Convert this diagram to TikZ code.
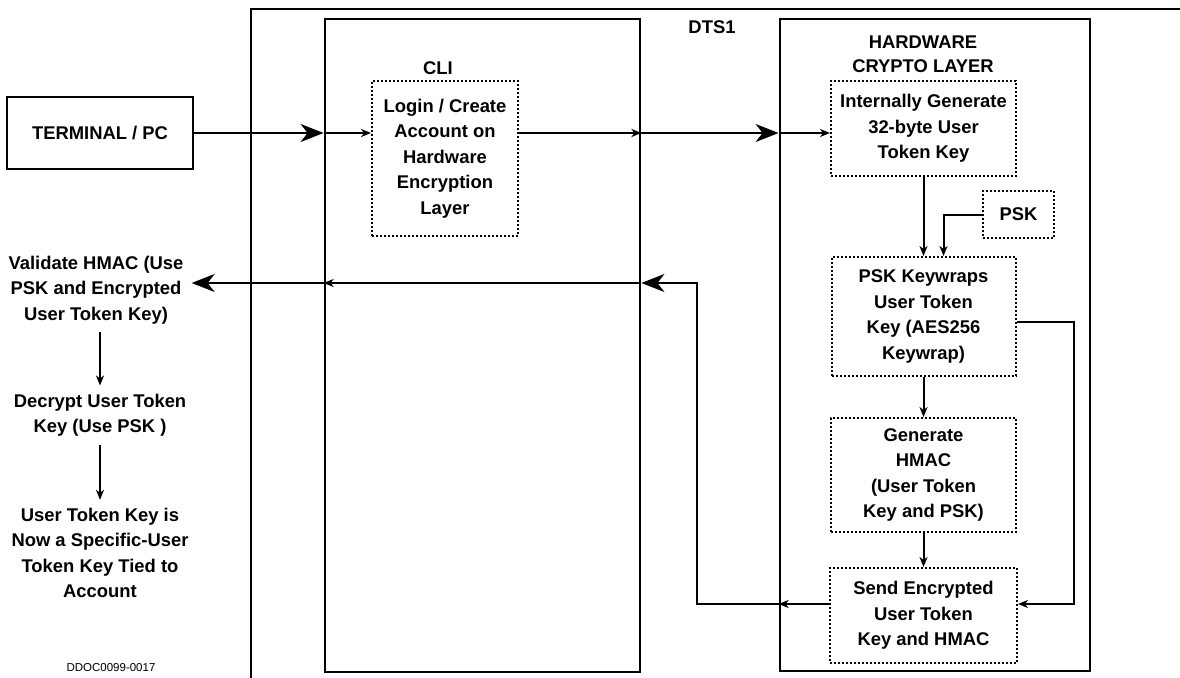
\documentclass[tikz,border=0pt]{standalone}
\usepackage{fontspec}
\setmainfont{Liberation Sans}
\usetikzlibrary{arrows.meta, positioning, calc}

\begin{document}
\begin{tikzpicture}[
    x=1pt, y=-1pt,
    font=\fontsize{18.4}{25.5}\selectfont\bfseries,
    % Styles
    panel/.style={rectangle, draw=black, line width=2.8pt, inner sep=0pt},
    stepbox/.style={rectangle, draw=black, line width=2pt, dash pattern=on 2pt off 2pt, align=center, inner sep=0pt},
    textnode/.style={align=center, inner sep=8pt},
    bigarrow/.style={-{Stealth[length=23pt, width=18pt, inset=7pt]}, line width=2pt},
    arrow/.style={-{Stealth[length=10pt, width=8pt, inset=3pt]}, line width=2pt}
]
    \useasboundingbox (0,0) rectangle (1180,677);

    % Outer DTS1 frame, open to the right and bottom
    \draw[line width=2.8pt] (251,690) |- (1190,9);
    \node (dtslabel) at (712,27) {DTS1};

    % Two panels inside DTS1
    \node[panel, minimum width=315pt, minimum height=653pt] (cli) at (482.5,345.5) {};
    \node[panel, minimum width=310pt, minimum height=652pt] (hw) at (935,345) {};
    \node (clilabel) at (438,68) {CLI};
    \node[align=center, font=\fontsize{18.4}{24}\selectfont\bfseries] (hwlabel) at (923,54) {HARDWARE\\CRYPTO LAYER};

    % Terminal
    \node[panel, minimum width=186pt, minimum height=72pt] (terminal) at (100,133) {TERMINAL / PC};

    % CLI step
    \node[stepbox, minimum width=146pt, minimum height=155pt] (login) at (445,158.5) {Login / Create\\Account on\\Hardware\\Encryption\\Layer};

    % Crypto layer steps, top to bottom
    \node[stepbox, minimum width=185pt, minimum height=95pt] (genkey) at (923.5,128.5) {Internally Generate\\32-byte User\\Token Key};
    \node[stepbox, minimum width=184pt, minimum height=119pt, below=79pt of genkey] (keywrap) {PSK Keywraps\\User Token\\Key (AES256\\Keywrap)};
    \node[stepbox, minimum width=185pt, minimum height=114pt, below=40pt of keywrap] (hmac) {Generate\\HMAC\\(User Token\\Key and PSK)};
    \node[stepbox, minimum width=187pt, minimum height=95pt, below=34pt of hmac] (send) {Send Encrypted\\User Token\\Key and HMAC};
    \node[stepbox, minimum width=71pt, minimum height=47pt] (psk) at (1018.5,214.5) {PSK};

    % Steps outside DTS1
    \node[textnode] (validate) at (96,290) {Validate HMAC (Use\\PSK and Encrypted\\User Token Key)};
    \node[textnode] (decrypt) at (100,415) {Decrypt User Token\\Key (Use PSK )};
    \node[textnode] (account) at (100,553) {User Token Key is\\Now a Specific-User\\Token Key Tied to\\Account};
    \node[font=\fontsize{11.5}{14}\selectfont] (docid) at (111,668) {DDOC0099-0017};

    % Request path, left to right
    \draw[bigarrow] (terminal.east) -- (terminal.east -| cli.west);
    \draw[arrow] (terminal.east -| cli.west) -- (terminal.east -| login.west);
    \draw[arrow] (terminal.east -| login.east) -- (terminal.east -| cli.east);
    \draw[bigarrow] (terminal.east -| cli.east) -- (terminal.east -| hw.west);
    \draw[arrow] (terminal.east -| hw.west) -- (terminal.east -| genkey.west);

    % Inside the crypto layer
    \coordinate (keyout) at ([yshift=-5.5pt]keywrap.east);
    \coordinate (sendin) at ([yshift=11.5pt]send.east);
    \coordinate (sendout) at ([yshift=11.5pt]send.west);
    \draw[arrow] (genkey) -- (keywrap);
    \draw[arrow] (psk.west) -| ([xshift=20pt]keywrap.north);
    \draw[arrow] (keyout) -- ++(57,0) |- (sendin);
    \draw[arrow] (keywrap) -- (hmac);
    \draw[arrow] (hmac) -- (send);

    % Response path, right to left
    \coordinate (retrow) at (0,283);
    \draw[arrow] (sendout) -- (sendout -| hw.west);
    \draw[bigarrow] (sendout -| hw.west) -- ++(-82,0) |- (retrow -| cli.east);
    \draw[arrow] (retrow -| cli.east) -- (retrow -| cli.west);
    \draw[bigarrow] (retrow -| cli.west) -- (retrow -| validate.east);

    % Host side steps
    \draw[arrow] (validate.south -| decrypt.north) -- (decrypt.north);
    \draw[arrow] (decrypt.south) -- (account.north);
\end{tikzpicture}
\end{document}
